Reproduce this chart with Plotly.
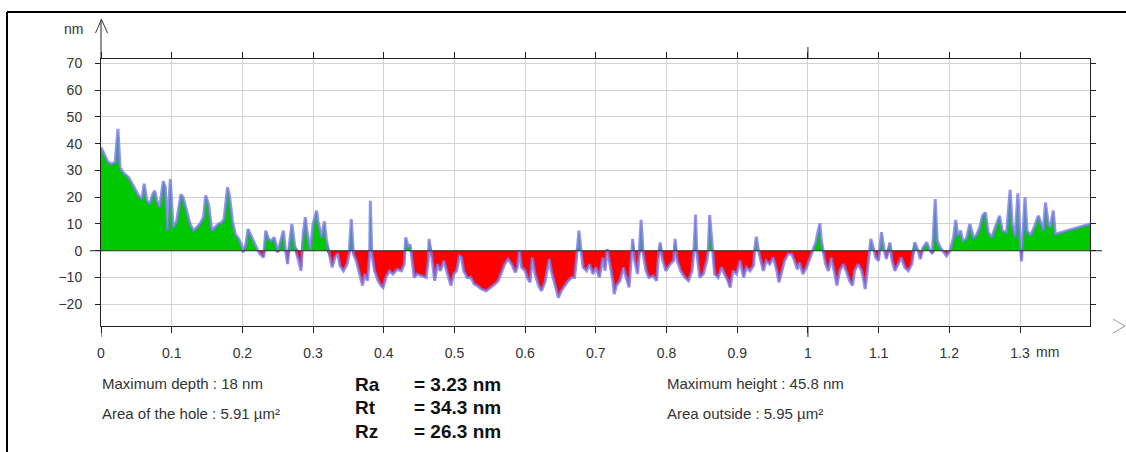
import numpy as np
import plotly.graph_objects as go

# ---------------- data ----------------
x_mm = [
    0.000, 0.006, 0.010, 0.015, 0.020, 0.024, 0.027, 0.032, 0.039, 0.043, 0.048, 0.053, 0.058, 0.061,
    0.065, 0.069, 0.073, 0.076, 0.079, 0.083, 0.088, 0.091, 0.094, 0.098, 0.102, 0.107, 0.113, 0.116,
    0.121, 0.126, 0.131, 0.135, 0.140, 0.145, 0.148, 0.152, 0.157, 0.161, 0.166, 0.171, 0.174, 0.179,
    0.182, 0.186, 0.190, 0.195, 0.199, 0.201, 0.205, 0.208, 0.213, 0.217, 0.222, 0.225, 0.230, 0.233,
    0.237, 0.241, 0.245, 0.250, 0.254, 0.258, 0.261, 0.264, 0.267, 0.270, 0.274, 0.280, 0.283, 0.286,
    0.289, 0.292, 0.296, 0.300, 0.305, 0.307, 0.312, 0.316, 0.319, 0.324, 0.327, 0.331, 0.335,
    0.338, 0.343, 0.348, 0.351, 0.354, 0.357, 0.361, 0.365, 0.370, 0.373, 0.377, 0.380, 0.381, 0.383,
    0.387, 0.392, 0.396, 0.399, 0.403, 0.408, 0.413, 0.419, 0.425, 0.429, 0.431, 0.435, 0.437, 0.439,
    0.443, 0.447, 0.453, 0.460, 0.463, 0.464, 0.468, 0.472, 0.476, 0.480, 0.485, 0.489, 0.495, 0.499,
    0.503, 0.507, 0.510, 0.513, 0.518, 0.523, 0.528, 0.532, 0.538, 0.545, 0.552, 0.557, 0.562, 0.567,
    0.571, 0.576, 0.581, 0.586, 0.589, 0.592, 0.595, 0.600, 0.603, 0.607, 0.610, 0.614, 0.619, 0.623,
    0.628, 0.631, 0.634, 0.637, 0.642, 0.647, 0.651, 0.656, 0.661, 0.666, 0.670, 0.674, 0.676, 0.679,
    0.682, 0.687, 0.691, 0.696, 0.700, 0.705,
    0.710, 0.713, 0.716, 0.720, 0.724, 0.726, 0.729, 0.734, 0.739, 0.743, 0.747, 0.751, 0.752, 0.755,
    0.759, 0.761, 0.764, 0.767, 0.771, 0.775, 0.781, 0.786, 0.788, 0.791, 0.794, 0.799, 0.805, 0.810,
    0.812, 0.815, 0.820, 0.826, 0.831, 0.836, 0.839, 0.841, 0.843, 0.847, 0.852, 0.857, 0.859, 0.861,
    0.865, 0.868, 0.873, 0.878, 0.882, 0.887, 0.890, 0.894, 0.899, 0.904, 0.909, 0.913, 0.918, 0.923,
    0.925, 0.927, 0.930, 0.933, 0.937, 0.941, 0.946, 0.951, 0.956, 0.959, 0.963, 0.967, 0.972, 0.977,
    0.981, 0.985, 0.988, 0.993, 0.998, 1.003, 1.007, 1.011, 1.014, 1.017, 1.019, 1.022, 1.025, 1.029,
    1.033, 1.038, 1.041, 1.045, 1.050, 1.054, 1.059,
    1.063, 1.066, 1.071, 1.076, 1.079, 1.081, 1.084, 1.087, 1.089, 1.093, 1.096, 1.100, 1.102, 1.104,
    1.108, 1.111, 1.116, 1.119, 1.123, 1.128, 1.132, 1.137, 1.142, 1.147, 1.151, 1.156, 1.159, 1.163,
    1.168, 1.172, 1.176, 1.180, 1.183, 1.187, 1.191, 1.196, 1.201, 1.206, 1.209, 1.212, 1.216, 1.219,
    1.224, 1.229, 1.234, 1.238, 1.243, 1.247, 1.251, 1.255, 1.260, 1.264, 1.271, 1.275, 1.281, 1.286,
    1.289, 1.293, 1.297, 1.300, 1.302, 1.304, 1.307, 1.310, 1.315, 1.321, 1.326, 1.330, 1.333, 1.336,
    1.340, 1.343, 1.347, 1.350, 1.399,
]
height_nm = [
    38.6, 35.0, 33.0, 32.4, 33.0, 45.5, 31.0, 29.0, 27.4, 25.5, 23.0, 20.6, 19.3, 25.0,
    18.7, 17.5, 21.0, 22.4, 18.7, 16.2, 26.0, 23.7, 7.5, 26.8, 8.7, 11.0, 21.0, 20.0,
    15.0, 10.0, 7.5, 8.7, 10.0, 12.5, 20.6, 17.5, 7.5, 8.7, 10.0, 10.6, 11.8, 23.7,
    20.0, 11.0, 6.2, 4.4, 1.9, -0.6, 2.5, 8.1, 5.0, 2.5, 0.0, -1.2, -2.5, 7.5,
    4.4, 3.7, 5.0, -0.6, 3.7, 7.5, 0.0, -5.0, 3.7, 10.0, 1.9, -3.7, -7.5, 6.2,
    12.5, 6.2, 0.0, 10.0, 15.0, 11.0, 5.0, 11.0, 3.7, -2.5, -6.2, -2.5, -1.0,
    -5.6, -7.5, -5.0, -1.2, 11.8, -1.2, -3.7, -7.5, -13.0, -8.7, -11.2, -1.2, 18.7, -1.2,
    -7.5, -11.2, -13.0, -13.7, -10.0, -7.5, -8.7, -6.9, -7.5, -5.0, 5.0, 1.2, 2.5, -1.2,
    -10.0, -8.7, -9.4, -10.0, -3.7, 4.4, -2.5, -11.2, -5.0, -7.5, -3.7, -7.5, -13.0, -8.7,
    -7.5, -1.9, -2.5, -7.5, -10.0, -10.0, -12.5, -13.0, -14.3, -15.0, -13.7, -12.5, -11.2, -8.1,
    -5.0, -3.1, -5.0, -8.1, -6.2, 0.0, -6.2, -7.5, -10.0, -11.8, -2.5, -8.7, -13.0, -15.0,
    -11.8, -7.5, -3.1, -7.5, -12.5, -17.5, -15.0, -13.0, -11.2, -10.0, -10.0, 1.2, 7.5, 0.0,
    -6.2, -7.5, -5.0, -8.7, -6.2, -10.0,
    -2.5, -7.5, 0.6, -5.0, -11.2, -16.2, -13.0, -11.2, -6.2, -10.0, -13.7, 0.0, 4.4, -3.7,
    -8.7, -2.5, 11.5, -1.2, -7.5, -10.0, -9.4, -11.2, -3.7, 3.1, -3.1, -7.5, -5.0, -3.7,
    4.4, -3.7, -7.5, -10.0, -11.2, -7.5, 1.2, 13.5, -1.2, -10.0, -8.7, -3.7, 0.0, 13.3,
    0.0, -8.7, -10.0, -6.2, -8.7, -11.2, -13.7, -7.5, -8.7, -3.7, -10.0, -6.2, -7.5, -5.6,
    1.2, 5.2, 0.0, -3.7, -7.5, -3.7, -5.0, -2.5, -7.5, -11.8, -7.5, -3.7, -1.2, -1.2,
    -3.7, -6.9, -4.4, -8.7, -6.2, -2.5, 0.0, 3.1, 6.9, 10.2, 3.7, -1.2, -5.0, -7.5,
    -2.5, -8.7, -13.0, -7.5, -5.0, -7.5, -11.2,
    -13.0, -7.5, -5.0, -7.5, -11.2, -14.3, -7.5, 0.0, 4.4, 0.6, -2.5, -3.7, 1.2, 6.9,
    0.0, -3.1, 3.1, -3.7, -7.5, -5.0, -2.5, -6.2, -7.5, -5.0, 3.1, 0.0, -3.1, 1.2,
    3.1, 0.6, -1.2, 19.3, 3.7, 1.2, 0.0, -1.9, 0.0, 5.0, 11.5, 5.6, 7.5, 3.7,
    4.4, 10.0, 5.0, 5.6, 8.7, 13.1, 14.3, 6.9, 5.0, 8.1, 13.1, 7.5, 6.9, 22.7,
    10.0, 5.0, 21.4, 5.0, -4.0, 5.0, 20.0, 7.5, 5.6, 9.4, 13.1, 10.0, 7.5, 18.0,
    10.0, 8.7, 15.0, 6.2, 10.0,
]

x_tick_vals = [0, 0.1, 0.2, 0.3, 0.4, 0.5, 0.6, 0.7, 0.8, 0.9, 1.0, 1.1, 1.2, 1.3]
x_tick_text = ["0", "0.1", "0.2", "0.3", "0.4", "0.5", "0.6", "0.7", "0.8", "0.9", "1", "1.1", "1.2", "1.3"]
y_tick_vals = [-20, -10, 0, 10, 20, 30, 40, 50, 60, 70]
x_unit = "mm"
y_unit = "nm"

left_stats = ["Maximum depth : 18 nm", "Area of the hole : 5.91 µm²"]
right_stats = ["Maximum height : 45.8 nm", "Area outside : 5.95 µm²"]
r_names = ["Ra", "Rt", "Rz"]
r_values = ["= 3.23 nm", "= 34.3 nm", "= 26.3 nm"]

# ---------------- layout geometry (pixels) ----------------
W, H = 1126, 452
L, R, T, B = 101, 36, 59, 126
PW, PH = W - L - R, H - T - B
X_RANGE = [0, 1.399]
Y_RANGE = [-28.1, 71.6]


def px(xp):
    return (xp - L) / PW


def py(yp):
    return (H - B - yp) / PH


FONT = "Liberation Sans, Arial, sans-serif"
GREEN = "#00c800"
RED = "#ff0000"
LAV = "rgba(118,118,238,0.78)"
TXT = "#333"

x = np.array(x_mm)
y = np.array(height_nm)
y_pos = np.maximum(y, 0)
y_neg = np.minimum(y, 0)

fig = go.Figure()
fig.add_trace(go.Scatter(x=x, y=y_pos, mode="lines", fill="tozeroy", fillcolor=GREEN,
                         line=dict(width=0, color=GREEN), hoverinfo="skip", showlegend=False))
fig.add_trace(go.Scatter(x=x, y=y_neg, mode="lines", fill="tozeroy", fillcolor=RED,
                         line=dict(width=0, color=RED), hoverinfo="skip", showlegend=False))
fig.add_trace(go.Scatter(x=x, y=y, mode="lines", line=dict(width=3, color=LAV),
                         showlegend=False))

axis_common = dict(showgrid=True, gridcolor="#d2d2d2", gridwidth=1, zeroline=False,
                   showline=True, linecolor="#222", linewidth=1, mirror="ticks",
                   ticks="outside", tickcolor="#222", tickwidth=1,
                   tickfont=dict(family=FONT, size=14, color=TXT))

fig.update_xaxes(range=X_RANGE, tickmode="array", tickvals=x_tick_vals, ticktext=x_tick_text,
                 ticklen=6, ticklabelstandoff=8, **axis_common)
fig.update_yaxes(range=Y_RANGE, tickmode="array", tickvals=y_tick_vals,
                 ticklen=5, ticklabelstandoff=10, **axis_common)

shapes = []
# zero line
shapes.append(dict(type="line", xref="paper", yref="y", x0=0, x1=1, y0=0, y1=0,
                   line=dict(color="#333", width=1.2), layer="above"))
# longer ticks at major positions
for xv in (0, 1):
    shapes.append(dict(type="line", xref="x", yref="paper", x0=xv, x1=xv, y0=0, y1=py(337),
                       line=dict(color="#222", width=1)))
shapes.append(dict(type="line", xref="x", yref="paper", x0=1, x1=1, y0=1, y1=py(47),
                   line=dict(color="#222", width=1)))
shapes.append(dict(type="line", xref="paper", yref="y", x0=px(90), x1=0, y0=0, y1=0,
                   line=dict(color="#222", width=1)))
shapes.append(dict(type="line", xref="paper", yref="y", x0=1, x1=px(1102), y0=0, y1=0,
                   line=dict(color="#222", width=1)))
# y axis extension with arrow head
shapes.append(dict(type="line", xref="paper", yref="paper", x0=0, x1=0, y0=1, y1=py(19.5),
                   line=dict(color="#222", width=1)))
shapes.append(dict(type="path", xref="paper", yref="paper",
                   path=f"M {px(95.5)} {py(33)} L {px(101.5)} {py(19.5)} L {px(107.5)} {py(33)}",
                   line=dict(color="#333", width=1)))
# x axis arrow head
shapes.append(dict(type="path", xref="paper", yref="paper",
                   path=f"M {px(1113)} {py(319)} L {px(1125)} {py(326)} L {px(1113)} {py(333)}",
                   line=dict(color="#999", width=1)))
# outer frame (top and left)
shapes.append(dict(type="line", xref="paper", yref="paper", x0=px(7), x1=px(1130), y0=py(12), y1=py(12),
                   line=dict(color="#000", width=2)))
shapes.append(dict(type="line", xref="paper", yref="paper", x0=px(7), x1=px(7), y0=py(12), y1=py(460),
                   line=dict(color="#000", width=2)))

annotations = []
annotations.append(dict(text=y_unit, xref="paper", yref="paper", x=px(73), y=py(29),
                        xanchor="center", yanchor="middle", showarrow=False,
                        font=dict(family=FONT, size=14, color=TXT)))
annotations.append(dict(text=x_unit, xref="x", yref="paper", x=x_tick_vals[-1], xshift=14, y=py(352),
                        xanchor="left", yanchor="middle", showarrow=False,
                        font=dict(family=FONT, size=14, color=TXT)))
for i, t in enumerate(left_stats):
    annotations.append(dict(text=t, xref="paper", yref="paper", x=px(100), y=py(383 + 30 * i),
                            xanchor="left", yanchor="middle", showarrow=False,
                            font=dict(family=FONT, size=15, color=TXT)))
for i, t in enumerate(right_stats):
    annotations.append(dict(text=t, xref="paper", yref="paper", x=px(665), y=py(383 + 30 * i),
                            xanchor="left", yanchor="middle", showarrow=False,
                            font=dict(family=FONT, size=15, color=TXT)))
for i, (n, v) in enumerate(zip(r_names, r_values)):
    annotations.append(dict(text=f"<b>{n}</b>", xref="paper", yref="paper", x=px(353), y=py(384 + 23.5 * i),
                            xanchor="left", yanchor="middle", showarrow=False,
                            font=dict(family=FONT, size=19, color="#111")))
    annotations.append(dict(text=f"<b>{v}</b>", xref="paper", yref="paper", x=px(412), y=py(384 + 23.5 * i),
                            xanchor="left", yanchor="middle", showarrow=False,
                            font=dict(family=FONT, size=19, color="#111")))

fig.update_layout(width=W, height=H, autosize=False,
                  margin=dict(l=L, r=R, t=T, b=B, pad=0),
                  paper_bgcolor="white", plot_bgcolor="white",
                  shapes=shapes, annotations=annotations, showlegend=False)

fig.write_html("out.html", config={"displayModeBar": False},
               post_script="document.body.style.margin='0';document.body.style.overflow='hidden';")
